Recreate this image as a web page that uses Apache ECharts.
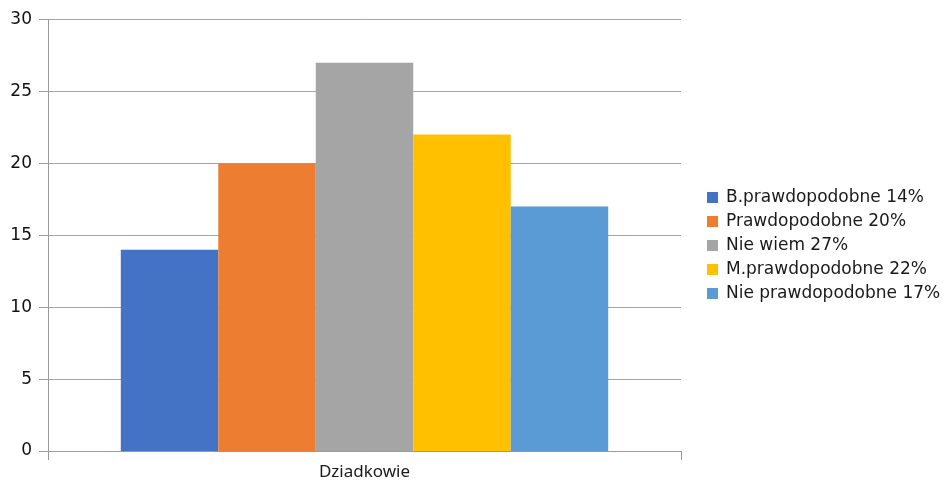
<!DOCTYPE html>
<html><head><meta charset="utf-8">
<script src="https://cdn.jsdelivr.net/npm/echarts@6/dist/echarts.min.js"></script>
<style>html,body{margin:0;padding:0;background:#fff}#c{width:946px;height:481px}</style>
</head><body><div id="c"></div>
<script>
const categories = ['Dziadkowie'];
const seriesNames = ['B.prawdopodobne 14%','Prawdopodobne 20%','Nie wiem 27%','M.prawdopodobne 22%','Nie prawdopodobne 17%'];
const seriesValues = [14, 20, 27, 22, 17];
const colors = ['#4472C4','#ED7D31','#A5A5A5','#FFC000','#5B9BD5'];
const yTicks = [0, 5, 10, 15, 20, 25, 30];

const chart = echarts.init(document.getElementById('c'), null, {renderer:'canvas'});
chart.setOption({
  animation: false,
  grid: {left: 48, right: 265, top: 19.5, bottom: 30, containLabel: false},
  legend: {
    orient: 'vertical', left: 707, top: 189, itemWidth: 11, itemHeight: 11, itemGap: 7,
    icon: 'rect', padding: 0,
    textStyle: {fontFamily: 'DejaVu Sans', fontSize: 17, lineHeight: 17, color: '#1a1a1a', padding: [0,0,0,3]},
    data: seriesNames
  },
  xAxis: {
    type: 'category', data: categories,
    axisLine: {lineStyle: {color: '#9a9a9a', width: 1}},
    axisTick: {show: true, alignWithLabel: false, length: 9, lineStyle: {color: '#9a9a9a'}},
    axisLabel: {fontFamily: 'Noto Sans', fontSize: 17, color: '#1a1a1a', margin: 13}
  },
  yAxis: {
    type: 'value', min: yTicks[0], max: yTicks[yTicks.length-1], interval: 5,
    axisLine: {show: true, lineStyle: {color: '#9a9a9a', width: 1}},
    axisTick: {show: true, length: 9, inside: false, lineStyle: {color: '#9a9a9a'}},
    axisLabel: {fontFamily: 'DejaVu Sans', fontSize: 17, color: '#111', margin: 16},
    splitLine: {lineStyle: {color: '#a6a6a6', width: 1}}
  },
  series: seriesNames.map((n, i) => ({
    name: n, type: 'bar',
    data: [seriesValues[i]],
    barGap: '0%', barCategoryGap: '23%',
    itemStyle: {color: colors[i]}
  }))
});
</script></body></html>
